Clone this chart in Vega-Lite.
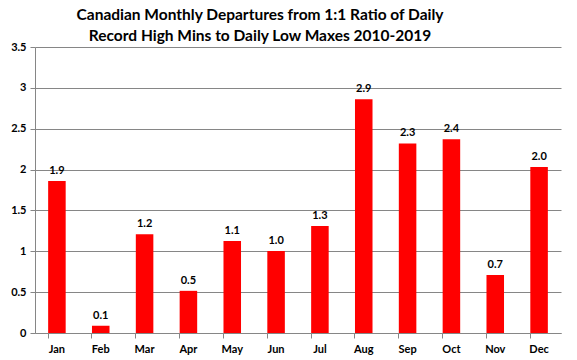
{
  "$schema": "https://vega.github.io/schema/vega-lite/v6.json",
  "autosize": "none",
  "width": 526,
  "height": 286,
  "padding": {"left": 35, "top": 47, "right": 16, "bottom": 27},
  "background": "white",
  "config": {
    "view": {"stroke": null},
    "font": "Lato"
  },
  "title": {
    "text": ["Canadian Monthly Departures from 1:1 Ratio of Daily", "Record High Mins to Daily Low Maxes 2010-2019"],
    "font": "Lato",
    "fontSize": 15.5,
    "fontWeight": "bold",
    "color": "black",
    "anchor": "middle",
    "dx": -38,
    "offset": -3,
    "lineHeight": 21
  },
  "data": {
    "values": [
      {"month": "Jan", "value": 1.86},
      {"month": "Feb", "value": 0.089},
      {"month": "Mar", "value": 1.21},
      {"month": "Apr", "value": 0.516},
      {"month": "May", "value": 1.126},
      {"month": "Jun", "value": 1.004},
      {"month": "Jul", "value": 1.31},
      {"month": "Aug", "value": 2.86},
      {"month": "Sep", "value": 2.32},
      {"month": "Oct", "value": 2.37},
      {"month": "Nov", "value": 0.71},
      {"month": "Dec", "value": 2.03}
    ]
  },
  "encoding": {
    "x": {
      "field": "month",
      "type": "nominal",
      "sort": null,
      "scale": {"paddingInner": 0.6, "paddingOuter": 0.3},
      "axis": {
        "title": null,
        "labelAngle": 0,
        "labelFont": "Lato",
        "labelFontWeight": "bold",
        "labelFontSize": 11,
        "labelColor": "black",
        "labelPadding": 5,
        "domainColor": "#868686",
        "tickColor": "#868686",
        "tickSize": 5,
        "bandPosition": 0
      }
    },
    "y": {
      "field": "value",
      "type": "quantitative",
      "scale": {"domain": [0, 3.5]},
      "axis": {
        "title": null,
        "values": [0, 0.5, 1, 1.5, 2, 2.5, 3, 3.5],
        "format": ".1~f",
        "labelFont": "Lato",
        "labelFontWeight": "bold",
        "labelFontSize": 11,
        "labelColor": "black",
        "labelPadding": 4,
        "domainColor": "#868686",
        "tickColor": "#868686",
        "tickSize": 5,
        "gridColor": "#868686",
        "grid": true
      }
    }
  },
  "layer": [
    {"mark": {"type": "bar", "color": "#ff0000"}},
    {
      "mark": {"type": "text", "dy": -10, "font": "Lato", "fontWeight": "bold", "fontSize": 11, "color": "black"},
      "encoding": {"text": {"field": "value", "type": "quantitative", "format": ".1f"}}
    }
  ]
}
